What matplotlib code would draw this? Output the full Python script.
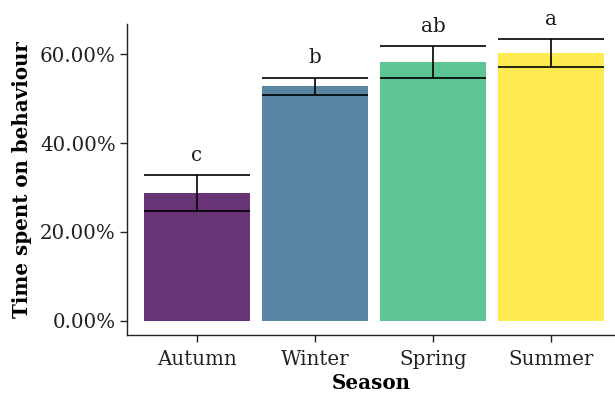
import matplotlib
matplotlib.use("Agg")
import matplotlib.pyplot as plt
from matplotlib.ticker import FuncFormatter

seasons = ["Autumn", "Winter", "Spring", "Summer"]
mean_pct = [28.8, 52.8, 58.2, 60.3]
se_pct = [4.0, 1.95, 3.6, 3.2]
letters = ["c", "b", "ab", "a"]
colors = ["#440154", "#31688e", "#35b779", "#fde725"]

plt.rcParams["font.family"] = ["DejaVu Serif"]
fs = 14.3

fig = plt.figure(figsize=(6.15, 3.96), dpi=100)
ax = fig.add_axes([127 / 615, 1 - 335 / 396, (615 - 127) / 615, (335 - 24) / 396])

x = list(range(1, len(seasons) + 1))
ax.bar(x, mean_pct, width=0.9, color=colors, alpha=0.8, linewidth=0)

lo = [m - s for m, s in zip(mean_pct, se_pct)]
hi = [m + s for m, s in zip(mean_pct, se_pct)]
ax.vlines(x, lo, hi, color="black", linewidth=1.2)
xl = [xi - 0.45 for xi in x]
xr = [xi + 0.45 for xi in x]
ax.hlines(lo, xl, xr, color="black", linewidth=1.2)
ax.hlines(hi, xl, xr, color="black", linewidth=1.2)

for xi, h, lab in zip(x, hi, letters):
    ax.text(xi, h + 4.4, lab, ha="center", va="center", fontsize=fs, color="#1a1a1a")

ax.set_xlim(0.41, 4.54)
ax.set_ylim(-3.2, 66.8)
ax.set_xticks(x)
ax.set_xticklabels(seasons)
ax.set_yticks([0, 20, 40, 60])
ax.yaxis.set_major_formatter(FuncFormatter(lambda v, p: f"{v:.2f}%"))

for side in ["top", "right"]:
    ax.spines[side].set_visible(False)
for side in ["left", "bottom"]:
    ax.spines[side].set_color("#222222")
    ax.spines[side].set_linewidth(1.0)

ax.tick_params(axis="both", colors="#222222", length=5, width=1.0, labelsize=fs,
               labelcolor="#222222", pad=3)
ax.tick_params(axis="x", pad=6)

ax.set_xlabel("Season", fontsize=fs, fontweight="bold", labelpad=3)
ax.set_ylabel("Time spent on behaviour", fontsize=fs, fontweight="bold", labelpad=6)

fig.savefig("out.png", dpi=100)
